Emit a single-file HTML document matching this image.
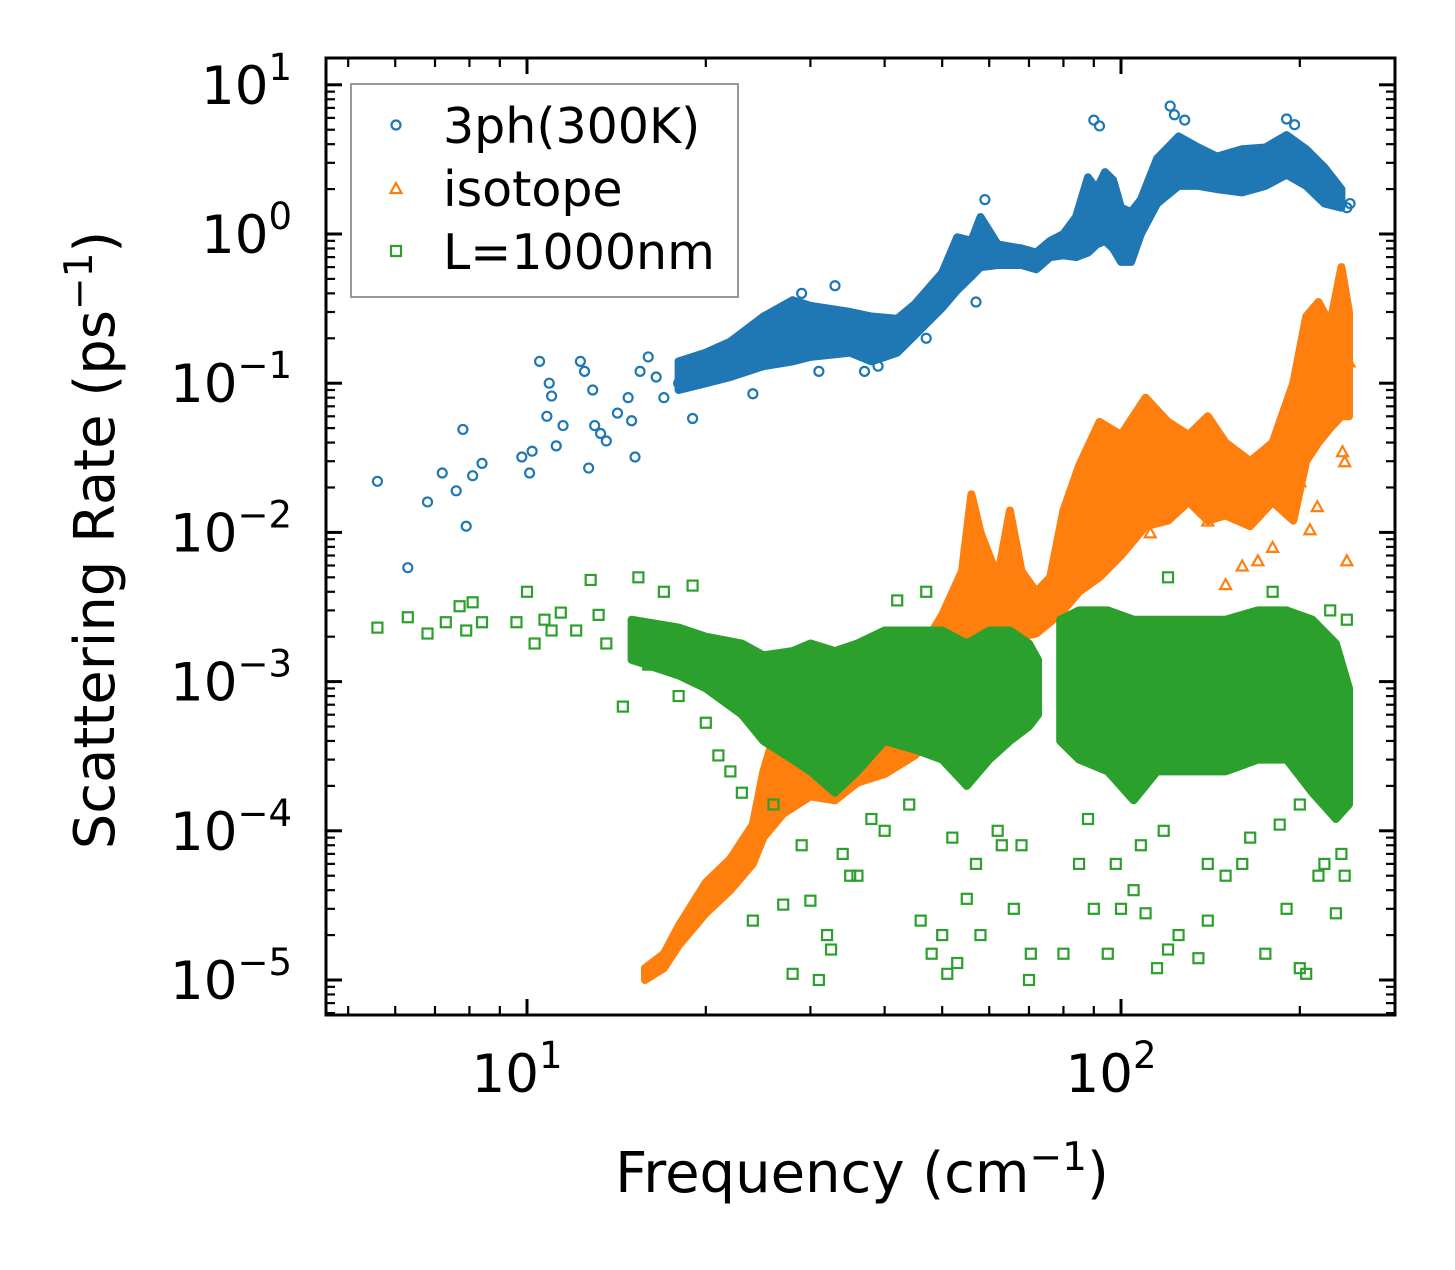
<!DOCTYPE html>
<html><head><meta charset="utf-8"><style>
html,body{margin:0;padding:0;background:#fff;}
svg text{font-family:"DejaVu Sans","Liberation Sans",sans-serif;}
</style></head><body>
<svg id="chart" width="1455" height="1265" viewBox="0 0 1455 1265" xmlns="http://www.w3.org/2000/svg">
<rect width="1455" height="1265" fill="#fff"/>
<g id="marks"></g>
<g id="axes"></g>
<text x="0" y="0" transform="translate(114,540) rotate(-90)" text-anchor="middle" font-size="56">Scattering Rate (ps<tspan font-size="39" dy="-22">−1</tspan><tspan dy="22">)</tspan></text>
<text x="862" y="1192" text-anchor="middle" font-size="56">Frequency (cm<tspan font-size="39" dy="-22">−1</tspan><tspan dy="22">)</tspan></text>
<g>
<rect x="351" y="84" width="387" height="213" fill="#fff" stroke="#999" stroke-width="2"/>
<circle cx="396" cy="125" r="4.5" fill="none" stroke="#1f77b4" stroke-width="2.2"/>
<text x="443" y="143" font-size="49">3ph(300K)</text>
<polygon points="396,183 401.5,193 390.5,193" fill="none" stroke="#ff7f0e" stroke-width="2.2"/>
<text x="443" y="206" font-size="49">isotope</text>
<rect x="391" y="246" width="10" height="10" fill="none" stroke="#2ca02c" stroke-width="2.2"/>
<text x="443" y="269" font-size="49">L=1000nm</text>
</g>
</svg>
<script>
// ---- data arrays ----
const blueEnvFreq=[18,20,22,25,28,30,35,38,42,45,50,53,56,58,62,68,72,76,80,84,88,91,94,97,100,104,108,115,125,135,145,160,175,190,205,220,235];
const blueEnvLo=[0.09,0.1,0.11,0.13,0.14,0.15,0.16,0.14,0.16,0.21,0.32,0.42,0.52,0.6,0.62,0.62,0.58,0.7,0.72,0.7,0.75,0.85,0.9,0.8,0.65,0.65,1.0,1.6,2.1,2.1,2.0,1.9,2.1,2.5,2.1,1.6,1.5];
const blueEnvHi=[0.14,0.16,0.19,0.28,0.36,0.33,0.3,0.28,0.27,0.34,0.55,0.95,0.9,1.3,0.85,0.8,0.75,0.9,1.0,1.3,2.4,2.0,2.6,2.3,1.5,1.4,1.7,3.2,4.5,3.8,3.3,3.7,3.8,4.6,3.7,2.8,2.0];
const blueFreq=[5.6,6.3,6.8,7.2,7.6,7.8,8.1,8.4,7.9,9.8,10.1,10.2,10.5,10.8,10.9,11.2,11.5,11.0,12.3,12.5,12.7,12.9,13.0,13.3,13.6,14.2,14.8,15.0,15.2,15.5,16,16.5,17,18,19,21,24,27,29,31,33,37,39,47,57,59,84,90,92,121,123,128,190,196,240,243];
const blueRate=[0.022,0.0058,0.016,0.025,0.019,0.049,0.024,0.029,0.011,0.032,0.025,0.035,0.14,0.06,0.1,0.038,0.052,0.082,0.14,0.12,0.027,0.09,0.052,0.046,0.041,0.063,0.08,0.056,0.032,0.12,0.15,0.11,0.08,0.1,0.058,0.17,0.085,0.32,0.4,0.12,0.45,0.12,0.13,0.2,0.35,1.7,0.85,5.8,5.3,7.2,6.3,5.8,5.9,5.4,1.5,1.6];

const orgEnvFreq=[15.8,17,18,20,22,24,25,27,30,33,36,40,45,50,54,56,58,62,65,68,72,76,80,85,92,100,110,120,130,140,150,165,180,195,205,215,225,235,242];
const orgEnvLo=[1e-5,1.2e-5,1.7e-5,2.8e-5,4e-5,6e-5,9e-5,1.3e-4,1.7e-4,1.6e-4,2.1e-4,2.4e-4,3.2e-4,5e-4,9e-4,1.2e-3,1.5e-3,1.8e-3,1.6e-3,2e-3,2.1e-3,2.5e-3,3e-3,4e-3,5e-3,7e-3,0.011,0.012,0.016,0.012,0.013,0.011,0.016,0.012,0.03,0.04,0.05,0.06,0.06];
const orgEnvHi=[1.2e-5,1.5e-5,2.3e-5,4.5e-5,6.5e-5,1.1e-4,2.5e-4,7e-4,4.5e-4,4.5e-4,5.5e-4,7e-4,1.4e-3,2.8e-3,5.5e-3,0.018,0.01,5e-3,0.014,5.5e-3,4e-3,5e-3,0.014,0.028,0.055,0.045,0.08,0.055,0.045,0.06,0.04,0.03,0.04,0.1,0.28,0.35,0.25,0.6,0.3];
const orgFreq=[150,160,170,180,208,214,238,240,242,200,112,140,125,236];
const orgRate=[0.0045,0.006,0.0065,0.008,0.0105,0.015,0.03,0.0065,0.14,0.022,0.01,0.012,0.035,0.035];

const grnEnvFreqA=[15,18,20,23,25,28,30,33,36,40,45,50,55,60,65,70,72.5];
const grnEnvLoA=[1.4e-3,1.1e-3,9e-4,6e-4,4e-4,3e-4,2.5e-4,1.8e-4,2.5e-4,4e-4,3.5e-4,3e-4,2e-4,3e-4,4e-4,5e-4,6e-4];
const grnEnvHiA=[2.6e-3,2.3e-3,2e-3,1.8e-3,1.5e-3,1.6e-3,1.8e-3,1.6e-3,1.8e-3,2.2e-3,2.2e-3,2.2e-3,1.8e-3,2.2e-3,2.2e-3,1.8e-3,1.4e-3];
const grnEnvFreqB=[79,85,95,105,115,130,150,170,190,210,230,242];
const grnEnvLoB=[4e-4,3e-4,2.5e-4,1.6e-4,2.5e-4,2.5e-4,2.5e-4,3e-4,3e-4,1.8e-4,1.2e-4,1.5e-4];
const grnEnvHiB=[2.6e-3,3e-3,3e-3,2.6e-3,2.6e-3,2.6e-3,2.6e-3,3e-3,3e-3,2.6e-3,1.8e-3,9e-4];
const grnFreq=[5.6,6.3,6.8,7.3,7.7,7.9,8.1,8.4,9.6,10,10.3,10.7,11,11.4,12.1,12.8,13.2,13.6,14.5,15.4,16,17,18,19,20,21,22,23,24,27,28,30,31,32,32.5,35,36,40,46,48,50,51,53,55,58,63,66,70,70.5,80,85,90,95,100,105,110,115,120,125,135,140,150,160,175,190,200,205,215,230,235,240,225,180,120,26,29,34,38,44,52,57,62,68,88,98,108,118,140,165,185,200,220,238,47,42];
const grnRate=[2.3e-3,2.7e-3,2.1e-3,2.5e-3,3.2e-3,2.2e-3,3.4e-3,2.5e-3,2.5e-3,4e-3,1.8e-3,2.6e-3,2.2e-3,2.9e-3,2.2e-3,4.8e-3,2.8e-3,1.8e-3,6.8e-4,5e-3,1.3e-3,4e-3,8e-4,4.4e-3,5.3e-4,3.2e-4,2.5e-4,1.8e-4,2.5e-5,3.2e-5,1.1e-5,3.4e-5,1e-5,2e-5,1.6e-5,5e-5,5e-5,1e-4,2.5e-5,1.5e-5,2e-5,1.1e-5,1.3e-5,3.5e-5,2e-5,8e-5,3e-5,1e-5,1.5e-5,1.5e-5,6e-5,3e-5,1.5e-5,3e-5,4e-5,2.8e-5,1.2e-5,1.6e-5,2e-5,1.4e-5,2.5e-5,5e-5,6e-5,1.5e-5,3e-5,1.2e-5,1.1e-5,5e-5,2.8e-5,7e-5,2.6e-3,3e-3,4e-3,5e-3,1.5e-4,8e-5,7e-5,1.2e-4,1.5e-4,9e-5,6e-5,1e-4,8e-5,1.2e-4,6e-5,8e-5,1e-4,6e-5,9e-5,1.1e-4,1.5e-4,6e-5,5e-5,4e-3,3.5e-3];

// ---- axes ----
const X0=326,X1=1395,Y0=58,Y1=1015;
const xDec=594, xRef=527; // x of 10^1
const yDec=149.2, yRef=980; // y of 1e-5
function sx(v){return xRef+(Math.log10(v)-1)*xDec;}
function sy(v){return yRef-(Math.log10(v)+5)*yDec;}
const NS="http://www.w3.org/2000/svg";
function mk(tag,attrs,parent){const e=document.createElementNS(NS,tag);for(const k in attrs)e.setAttribute(k,attrs[k]);parent.appendChild(e);return e;}
const marks=document.getElementById('marks');
const axes=document.getElementById('axes');
const cp=mk('clipPath',{id:'clip'},marks);
mk('rect',{x:X0,y:Y0,width:X1-X0,height:Y1-Y0},cp);
const g=mk('g',{'clip-path':'url(#clip)'},marks);

function env(fr,lo,hi,color,name){
  let pts=[];
  for(let i=0;i<fr.length;i++)pts.push(sx(fr[i]).toFixed(1)+','+sy(hi[i]).toFixed(1));
  for(let i=fr.length-1;i>=0;i--)pts.push(sx(fr[i]).toFixed(1)+','+sy(lo[i]).toFixed(1));
  const p=mk('polygon',{points:pts.join(' '),fill:color,stroke:color,'stroke-width':8,'stroke-linejoin':'round'},g);
  
  
}
function circ(fr,r,color){for(let i=0;i<fr.length;i++){const e=mk('circle',{cx:sx(fr[i]),cy:sy(r[i]),r:4.5,fill:'none',stroke:color,'stroke-width':2.2},g);
  
  }}
function tri(fr,r,color){for(let i=0;i<fr.length;i++){const x=sx(fr[i]),y=sy(r[i]);const e=mk('polygon',{points:`${x},${y-5} ${x+5.5},${y+5} ${x-5.5},${y+5}`,fill:'none',stroke:color,'stroke-width':2.2},g);
  
  }}
function sq(fr,r,color){for(let i=0;i<fr.length;i++){const e=mk('rect',{x:sx(fr[i])-5,y:sy(r[i])-5,width:10,height:10,fill:'none',stroke:color,'stroke-width':2.2},g);
  
  }}

env(blueEnvFreq,blueEnvLo,blueEnvHi,'#1f77b4','3ph-dense-band');
circ(blueFreq,blueRate,'#1f77b4');
env(orgEnvFreq,orgEnvLo,orgEnvHi,'#ff7f0e','isotope-dense-band');
tri(orgFreq,orgRate,'#ff7f0e');
env(grnEnvFreqA,grnEnvLoA,grnEnvHiA,'#2ca02c','boundary-dense-band-low');
env(grnEnvFreqB,grnEnvLoB,grnEnvHiB,'#2ca02c','boundary-dense-band-high');
sq(grnFreq,grnRate,'#2ca02c');

// frame
const fr=mk('rect',{x:X0,y:Y0,width:X1-X0,height:Y1-Y0,fill:'none',stroke:'#000','stroke-width':3},axes);


// x ticks
const xMajor=[10,100];
const xMajorLabels=['1','2'];
for(let d=1;d<=100;d*=10)for(let m=1;m<=9;m++){const v=m*d;const x=sx(v);if(x<X0||x>X1)continue;const L=m==1?16:9;
  mk('line',{x1:x,x2:x,y1:Y1,y2:Y1-L,stroke:'#000','stroke-width':m==1?3:2.2},axes);
  mk('line',{x1:x,x2:x,y1:Y0,y2:Y0+L,stroke:'#000','stroke-width':m==1?3:2.2},axes);}
xMajor.forEach((v,i)=>{const t=mk('text',{x:sx(v)-10,y:1092,'text-anchor':'middle','font-size':53},axes);t.textContent='10';
  
  
  const s=mk('tspan',{dy:-24,'font-size':37},t);s.textContent=xMajorLabels[i];});
// y ticks
const yExps=[1,0,-1,-2,-3,-4,-5];
const yLabels=['1','0','−1','−2','−3','−4','−5'];
for(let e=-6;e<=1;e++)for(let m=1;m<=9;m++){const v=m*Math.pow(10,e);const y=sy(v);if(y<Y0||y>Y1)continue;const L=m==1?16:9;
  mk('line',{x1:X0,x2:X0+L,y1:y,y2:y,stroke:'#000','stroke-width':m==1?3:2.2},axes);
  mk('line',{x1:X1,x2:X1-L,y1:y,y2:y,stroke:'#000','stroke-width':m==1?3:2.2},axes);}
yExps.forEach((e,i)=>{const t=mk('text',{x:292,y:sy(Math.pow(10,e))+19,'text-anchor':'end','font-size':53},axes);
  
  
  const a=mk('tspan',{},t);a.textContent='10';const s=mk('tspan',{dy:-24,'font-size':37},t);s.textContent=yLabels[i];});
</script>
</body></html>
